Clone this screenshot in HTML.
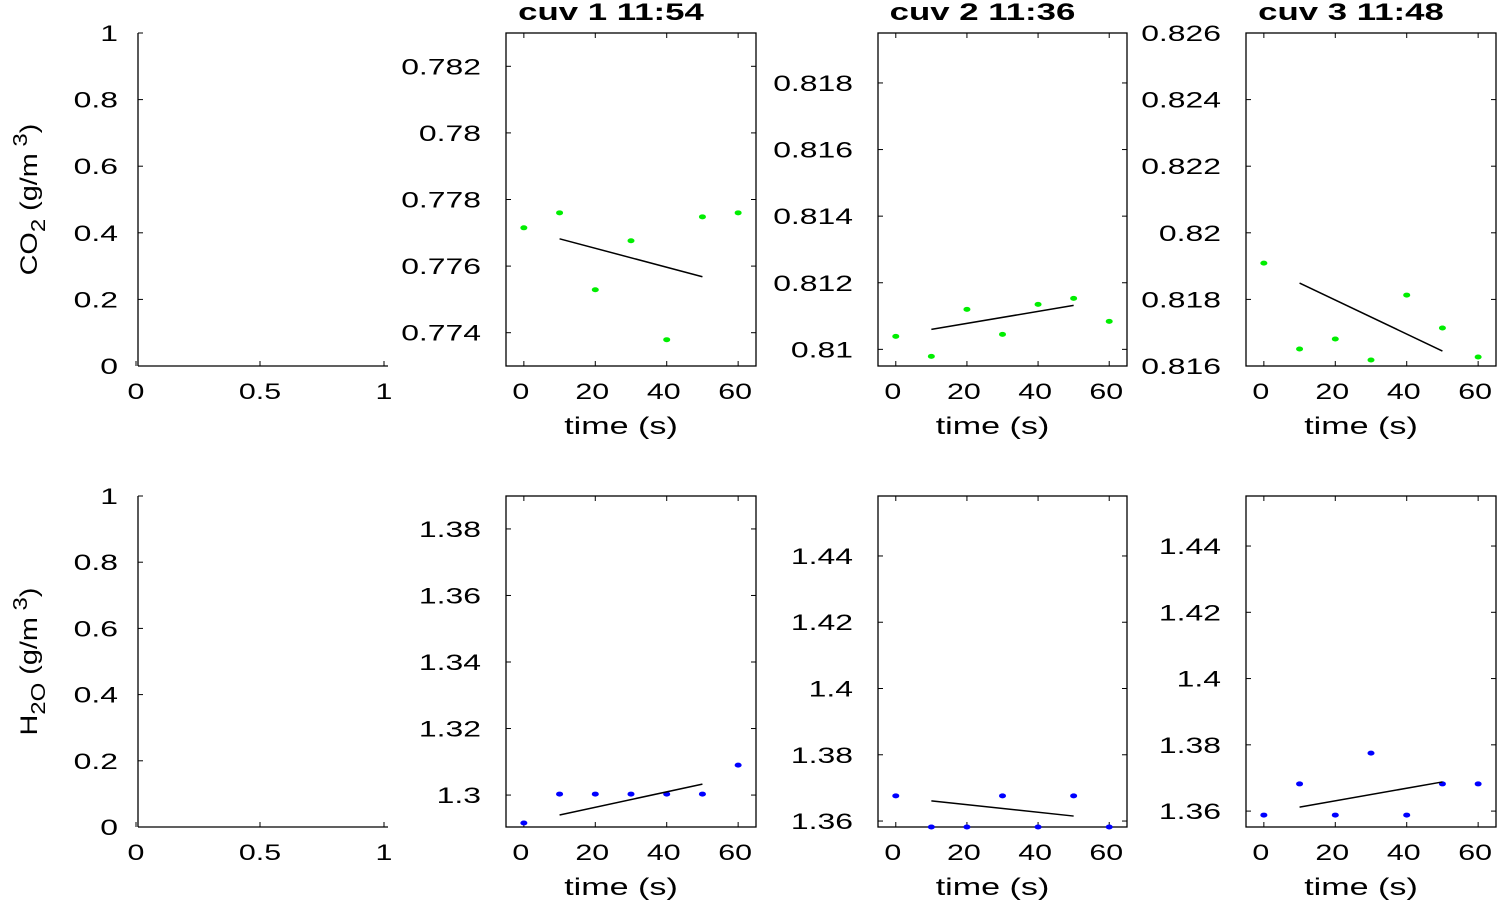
<!DOCTYPE html>
<html><head><meta charset="utf-8"><style>
body{margin:0;background:#fff;}
svg{display:block;font-family:"Liberation Sans",sans-serif;}
</style></head><body>
<svg id="chart" width="1500" height="900" viewBox="0 0 1500 900"></svg>
<script>
const xTime = [0,10,20,30,40,50,60];
const co2Cuv1 = [0.77715,0.77760,0.77529,0.77676,0.77379,0.77748,0.77760];
const co2Cuv2 = [0.81039,0.80979,0.81120,0.81045,0.81135,0.81153,0.81084];
const co2Cuv3 = [0.81909,0.81651,0.81681,0.81618,0.81813,0.81714,0.81627];
const h2oCuv1 = [1.2916,1.3003,1.3003,1.3003,1.3003,1.3003,1.3090];
const h2oCuv2 = [1.3676,1.3582,1.3582,1.3676,1.3582,1.3676,1.3582];
const h2oCuv3 = [1.3588,1.3682,1.3588,1.3775,1.3588,1.3682,1.3682];
const fitX = [10,50];
const co2Fit1 = [0.77682,0.77568];
const co2Fit2 = [0.81060,0.81132];
const co2Fit3 = [0.81849,0.81645];
const h2oFit1 = [1.2940,1.3033];
const h2oFit2 = [1.3661,1.3615];
const h2oFit3 = [1.3612,1.3688];
const titles = ["cuv 1 11:54","cuv 2 11:36","cuv 3 11:48"];
const xTicks = [0,20,40,60];
const emptyTicksX = [0,0.5,1], emptyTicksY = [0,0.2,0.4,0.6,0.8,1];
const co2Ticks = [[0.774,0.776,0.778,0.78,0.782],[0.81,0.812,0.814,0.816,0.818],[0.816,0.818,0.82,0.822,0.824,0.826]];
const h2oTicks = [[1.3,1.32,1.34,1.36,1.38],[1.36,1.38,1.4,1.42,1.44],[1.36,1.38,1.4,1.42,1.44]];
const co2Lim = [[0.773,0.783],[0.8095,0.8195],[0.816,0.826]];
const h2oLim = [[1.2904,1.3899],[1.3582,1.4581],[1.3552,1.4551]];

const NS="http://www.w3.org/2000/svg";
const svg=document.getElementById('chart');
function el(tag,attrs,parent,text){const e=document.createElementNS(NS,tag);for(const k in attrs)e.setAttribute(k,attrs[k]);if(text!==undefined)e.textContent=text;(parent||svg).appendChild(e);return e;}
function stext(x,y,sx,anchor,size,str,parent,extra){
  const a={transform:`translate(${x},${y}) scale(${sx},1)`,'text-anchor':anchor,'font-size':size};
  if(extra)Object.assign(a,extra);
  return el('text',a,parent,str);
}
const cols=[[506,756],[878,1127],[1246,1496]];
const rows=[[33,366],[496,827]];
const fmt=v=>String(+v.toFixed(4));

function panel(ci,ri,ylim,yt,data,fitY,color){
  const [x0,x1]=cols[ci],[y0,y1]=rows[ri];
  const g=el('g',{},svg);
  
  
  const sx=v=>x0+(v+5)/70*(x1-x0);
  const sy=v=>y1-(v-ylim[0])/(ylim[1]-ylim[0])*(y1-y0);
  el('rect',{x:x0,y:y0,width:x1-x0,height:y1-y0,fill:'none',stroke:'#000','stroke-width':1.3},g);
  yt.forEach(t=>{const y=sy(t);
    el('line',{x1:x0,x2:x0+5,y1:y,y2:y,stroke:'#000'},g);
    el('line',{x1:x1,x2:x1-5,y1:y,y2:y,stroke:'#000'},g);
    const tx=stext(x0-25,y+8,1.45,'end',22,fmt(t),g);
    
    });
  xTicks.forEach(t=>{const x=sx(t);
    el('line',{x1:x,x2:x,y1:y1,y2:y1-5,stroke:'#000'},g);
    el('line',{x1:x,x2:x,y1:y0,y2:y0+5,stroke:'#000'},g);
    const tx=stext(x-3,y1+33,1.38,'middle',22,String(t),g);
    
    });
  const xl=stext((x0+x1)/2-10,y1+68,1.42,'middle',24,'time (s)',g);
  
  
  data.forEach((v,i)=>{const c=el('ellipse',{cx:sx(xTime[i]),cy:sy(v),rx:3.5,ry:2.5,fill:color},g);
    
    });
  const ln=el('line',{x1:sx(fitX[0]),y1:sy(fitY[0]),x2:sx(fitX[1]),y2:sy(fitY[1]),stroke:'#000','stroke-width':1.5},g);
  
  
}
function emptyPanel(ri,label){
  const x0=138,x1=388,[y0,y1]=rows[ri];
  const g=el('g',{},svg);
  
  
  el('line',{x1:x0,x2:x0,y1:y0,y2:y1,stroke:'#000','stroke-width':1.3},g);
  el('line',{x1:x0,x2:x1,y1:y1,y2:y1,stroke:'#000','stroke-width':1.3},g);
  emptyTicksY.forEach(t=>{const y=y1-t*(y1-y0);
    el('line',{x1:x0,x2:x0+5,y1:y,y2:y,stroke:'#000'},g);
    const tx=stext(x0-20,y+8,1.45,'end',22,String(t),g);
    
    });
  emptyTicksX.forEach(t=>{const x=x0-2+t*(x1-x0-2);
    el('line',{x1:x,x2:x,y1:y1,y2:y1-5,stroke:'#000'},g);
    const tx=stext(x,y1+33,1.38,'middle',22,String(t),g);
    
    });
  const yl=el('text',{transform:`translate(37,${(y0+y1)/2}) rotate(-90) scale(1.2,1)`,'text-anchor':'middle','font-size':24},g);
  
  
  el('tspan',{},yl,label[0]);
  el('tspan',{dy:8,'font-size':20},yl,label[1]);
  el('tspan',{dy:-8},yl,' (g/m');
  el('tspan',{dy:-10,'font-size':20},yl,' 3');
  el('tspan',{dy:10},yl,')');
}
emptyPanel(0,['CO','2']);
emptyPanel(1,['H','2O']);
[co2Cuv1,co2Cuv2,co2Cuv3].forEach((d,i)=>panel(i,0,co2Lim[i],co2Ticks[i],d,[co2Fit1,co2Fit2,co2Fit3][i],'#00ee00'));
[h2oCuv1,h2oCuv2,h2oCuv3].forEach((d,i)=>panel(i,1,h2oLim[i],h2oTicks[i],d,[h2oFit1,h2oFit2,h2oFit3][i],'#0000ff'));
titles.forEach((t,i)=>{const tx=stext((cols[i][0]+cols[i][1])/2-20,20,1.45,'middle',24,t,svg,{'font-weight':'bold'});
  
  });
</script>
</body></html>
